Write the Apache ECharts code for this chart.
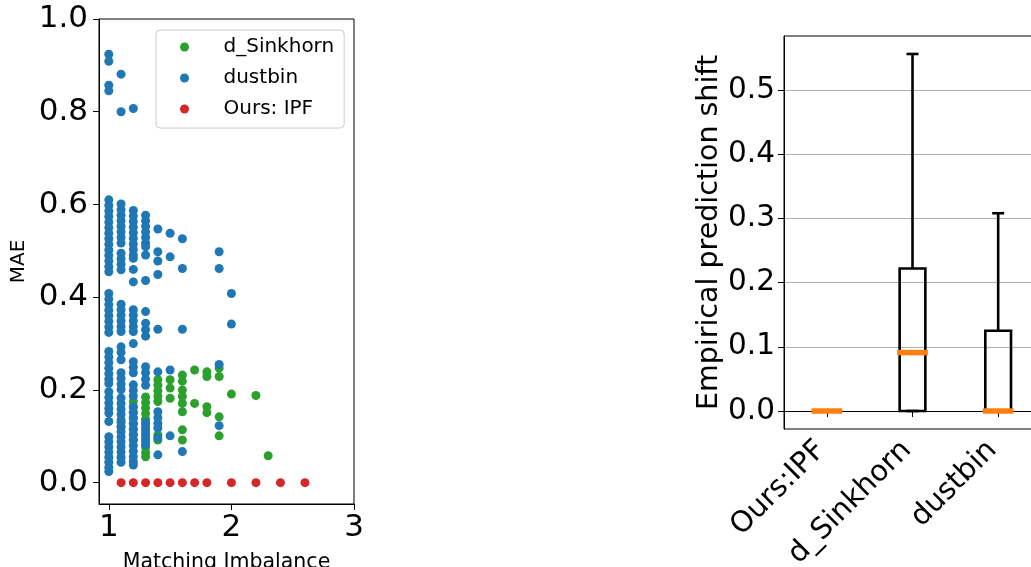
<!DOCTYPE html>
<html>
<head>
<meta charset="utf-8">
<script src="https://cdn.jsdelivr.net/npm/echarts@6/dist/echarts.min.js"></script>
<style>html,body{margin:0;padding:0;background:#fff}#c{width:1031px;height:567px}</style>
</head>
<body>
<div id="c"></div>
<script>
// ---------- Left panel: MAE vs Matching Imbalance ----------
const scatterXTicks = [1, 2, 3];
const scatterYTicks = [0, 0.2, 0.4, 0.6, 0.8, 1.0];
// each entry: [matching imbalance, [MAE values]]
const sinkhornCols = [
  [1.1, [0.130, 0.120]],
  [1.2, [0.175, 0.163, 0.151, 0.139, 0.127, 0.115, 0.103, 0.092]],
  [1.3, [0.185, 0.173, 0.161, 0.149, 0.137, 0.125, 0.113, 0.101, 0.089, 0.077, 0.065, 0.056]],
  [1.4, [0.222, 0.210, 0.198, 0.186, 0.175, 0.103, 0.092]],
  [1.5, [0.222, 0.204, 0.182]],
  [1.6, [0.232, 0.219, 0.200, 0.186, 0.171, 0.153, 0.114, 0.092]],
  [1.7, [0.243, 0.171]],
  [1.8, [0.239, 0.229, 0.164, 0.151]],
  [1.9, [0.247, 0.229, 0.142, 0.101]],
  [2.0, [0.191]],
  [2.2, [0.188]],
  [2.3, [0.058]]
];
const dustbinCols = [
  [1.0, [0.924, 0.909, 0.857, 0.845,
         0.610, 0.598, 0.586, 0.574, 0.562, 0.550, 0.538, 0.526, 0.514, 0.502, 0.490, 0.478, 0.466, 0.455,
         0.408, 0.396, 0.384, 0.372, 0.360, 0.348, 0.336, 0.324,
         0.283, 0.271, 0.259, 0.247, 0.235, 0.223, 0.214,
         0.196, 0.184, 0.172, 0.160, 0.150, 0.132,
         0.099, 0.088, 0.077, 0.066, 0.055, 0.044, 0.033, 0.024]],
  [1.1, [0.881, 0.800,
         0.601, 0.589, 0.577, 0.565, 0.553, 0.541, 0.529, 0.517,
         0.495, 0.483, 0.471, 0.459,
         0.385, 0.373, 0.361, 0.349, 0.337, 0.326,
         0.293, 0.281, 0.265, 0.237, 0.225, 0.213, 0.201,
         0.183, 0.171, 0.159, 0.147, 0.135,
         0.121, 0.110, 0.099, 0.088, 0.077, 0.066, 0.055, 0.044]],
  [1.2, [0.807,
         0.587, 0.575, 0.563, 0.551, 0.539, 0.527, 0.515, 0.503, 0.491, 0.484, 0.460, 0.433,
         0.373, 0.361, 0.349, 0.337, 0.326, 0.300,
         0.261, 0.249, 0.237, 0.211, 0.199, 0.187,
         0.164, 0.152, 0.140, 0.128, 0.116, 0.104, 0.092, 0.080, 0.068, 0.056, 0.045, 0.038]],
  [1.3, [0.577, 0.565, 0.553, 0.541, 0.529, 0.517, 0.509, 0.491, 0.436, 0.369,
         0.344, 0.330, 0.316, 0.250, 0.237, 0.223, 0.210,
         0.130, 0.118, 0.106, 0.094, 0.082]],
  [1.4, [0.547, 0.498, 0.478, 0.449, 0.331, 0.239, 0.153, 0.140, 0.128, 0.118, 0.097, 0.060]],
  [1.5, [0.538, 0.487, 0.243, 0.101]],
  [1.6, [0.526, 0.462, 0.331, 0.067]],
  [1.9, [0.498, 0.462, 0.255, 0.123]],
  [2.0, [0.408, 0.342]]
];
const oursX = [1.1, 1.2, 1.3, 1.4, 1.5, 1.6, 1.7, 1.8, 2.0, 2.2, 2.4, 2.6];
const oursY = [0, 0, 0, 0, 0, 0, 0, 0, 0, 0, 0, 0];

// ---------- Right panel: box plot ----------
const boxCategories = ['Ours:IPF', 'd_Sinkhorn', 'dustbin'];
const boxMin    = [0, 0, 0];
const boxQ1     = [0, 0, 0];
const boxMedian = [0, 0.091, 0];
const boxQ3     = [0, 0.222, 0.125];
const boxMax    = [0, 0.556, 0.308];
const boxYTicks = [0, 0.1, 0.2, 0.3, 0.4, 0.5];

function flatten(cols) {
  const out = [];
  cols.forEach(([x, ys]) => ys.forEach(y => out.push([x, y])));
  return out;
}

const FONT = 'DejaVu Sans';
const chart = echarts.init(document.getElementById('c'), null, {renderer: 'canvas'});

const boxData = boxCategories.map((c, i) => [i, boxMin[i], boxQ1[i], boxMedian[i], boxQ3[i], boxMax[i]]);

const option = {
  animation: false,
  backgroundColor: '#ffffff',
  textStyle: {fontFamily: FONT, color: '#000'},
  grid: [
    {left: 99, top: 19, width: 255, height: 485, show: true, borderColor: '#000', borderWidth: 1,
     containLabel: false, outerBoundsMode: 'none'},
    {left: 784, top: 36, width: 257, height: 393, show: true, borderColor: '#000', borderWidth: 1,
     containLabel: false, outerBoundsMode: 'none'}
  ],
  legend: {
    left: 156, top: 30,
    orient: 'vertical',
    padding: [7, 10, 9, 24],
    backgroundColor: 'rgba(255,255,255,0.8)',
    borderColor: '#cccccc', borderWidth: 1, borderRadius: 4,
    itemWidth: 18, itemHeight: 9, itemGap: 11,
    icon: 'circle',
    data: ['d_Sinkhorn', 'dustbin', 'Ours: IPF'],
    textStyle: {fontFamily: FONT, fontSize: 20, color: '#000', lineHeight: 20, padding: [0, 0, 0, 25]}
  },
  xAxis: [
    {
      gridIndex: 0, type: 'value', min: 0.92, max: 3.0,
      name: 'Matching Imbalance', nameLocation: 'middle', nameGap: 48,
      nameTextStyle: {fontFamily: FONT, fontSize: 20.5, color: '#000'},
      axisLine: {show: true, onZero: false, lineStyle: {color: '#000', width: 1}},
      axisTick: {show: true, length: 6, inside: false, customValues: scatterXTicks, lineStyle: {color: '#000'}},
      axisLabel: {customValues: scatterXTicks, fontFamily: FONT, fontSize: 31, color: '#000', margin: 8,
                  formatter: v => String(Math.round(v))},
      splitLine: {show: false}
    },
    {
      gridIndex: 1, type: 'category', data: boxCategories, boundaryGap: true,
      axisLine: {show: true, lineStyle: {color: '#000', width: 1}},
      axisTick: {show: true, alignWithLabel: true, length: 6, inside: false, lineStyle: {color: '#000'}},
      axisLabel: {rotate: 45, interval: 0, fontFamily: FONT, fontSize: 29, color: '#000', margin: 11,
                  padding: [0, 8, 0, 0]},
      splitLine: {show: false}
    }
  ],
  yAxis: [
    {
      gridIndex: 0, type: 'value', min: -0.046, max: 1.0,
      name: 'MAE', nameLocation: 'middle', nameGap: 70,
      nameTextStyle: {fontFamily: FONT, fontSize: 20, color: '#000'},
      axisLine: {show: true, onZero: false, lineStyle: {color: '#000', width: 1}},
      axisTick: {show: true, length: 6, inside: false, customValues: scatterYTicks, lineStyle: {color: '#000'}},
      axisLabel: {customValues: scatterYTicks, fontFamily: FONT, fontSize: 31, color: '#000', margin: 11,
                  formatter: v => v.toFixed(1)},
      splitLine: {show: false}
    },
    {
      gridIndex: 1, type: 'value', min: -0.028, max: 0.584,
      name: 'Empirical prediction shift', nameLocation: 'middle', nameGap: 60,
      nameTextStyle: {fontFamily: FONT, fontSize: 28.5, color: '#000'},
      axisLine: {show: true, onZero: false, lineStyle: {color: '#000', width: 1}},
      axisTick: {show: true, length: 6, inside: false, customValues: boxYTicks, lineStyle: {color: '#000'}},
      axisLabel: {customValues: boxYTicks, fontFamily: FONT, fontSize: 29.5, color: '#000', margin: 9,
                  formatter: v => v.toFixed(1)},
      splitLine: {show: true, lineStyle: {color: '#b0b0b0', width: 1}}
    }
  ],
  series: [
    {
      name: 'd_Sinkhorn', type: 'scatter', xAxisIndex: 0, yAxisIndex: 0,
      symbol: 'circle', symbolSize: 9, itemStyle: {color: '#2ca02c', opacity: 1},
      data: flatten(sinkhornCols), z: 2
    },
    {
      name: 'dustbin', type: 'scatter', xAxisIndex: 0, yAxisIndex: 0,
      symbol: 'circle', symbolSize: 9, itemStyle: {color: '#1f77b4', opacity: 1},
      data: flatten(dustbinCols), z: 3
    },
    {
      name: 'Ours: IPF', type: 'scatter', xAxisIndex: 0, yAxisIndex: 0,
      symbol: 'circle', symbolSize: 9, itemStyle: {color: '#d62728', opacity: 1},
      data: oursX.map((x, i) => [x, oursY[i]]), z: 4
    },
    {
      name: 'box', type: 'custom', xAxisIndex: 1, yAxisIndex: 1,
      encode: {x: 0, y: [1, 2, 3, 4, 5]},
      data: boxData,
      clip: false,
      z: 5,
      renderItem: function (params, api) {
        const idx = api.value(0);
        const band = api.size([1, 0])[0];
        const cx = api.coord([idx, 0])[0];
        const yMin = api.coord([idx, api.value(1)])[1];
        const yQ1 = api.coord([idx, api.value(2)])[1];
        const yMed = api.coord([idx, api.value(3)])[1];
        const yQ3 = api.coord([idx, api.value(4)])[1];
        const yMax = api.coord([idx, api.value(5)])[1];
        const hw = band * 0.15;
        const cw = band * 0.07;
        const black = {stroke: '#000', lineWidth: 2.6, fill: null};
        return {
          type: 'group',
          children: [
            {type: 'line', shape: {x1: cx, y1: yQ3, x2: cx, y2: yMax}, style: black},
            {type: 'line', shape: {x1: cx, y1: yQ1, x2: cx, y2: yMin}, style: black},
            {type: 'line', shape: {x1: cx - cw, y1: yMax, x2: cx + cw, y2: yMax}, style: black},
            {type: 'line', shape: {x1: cx - cw, y1: yMin, x2: cx + cw, y2: yMin}, style: black},
            {type: 'rect', shape: {x: cx - hw, y: yQ3, width: 2 * hw, height: yQ1 - yQ3}, style: black},
            {type: 'line', shape: {x1: cx - hw - 2.5, y1: yMed, x2: cx + hw + 2.5, y2: yMed},
             style: {stroke: '#ff7f0e', lineWidth: 5.5}}
          ]
        };
      }
    }
  ]
};
chart.setOption(option);
</script>
</body>
</html>
